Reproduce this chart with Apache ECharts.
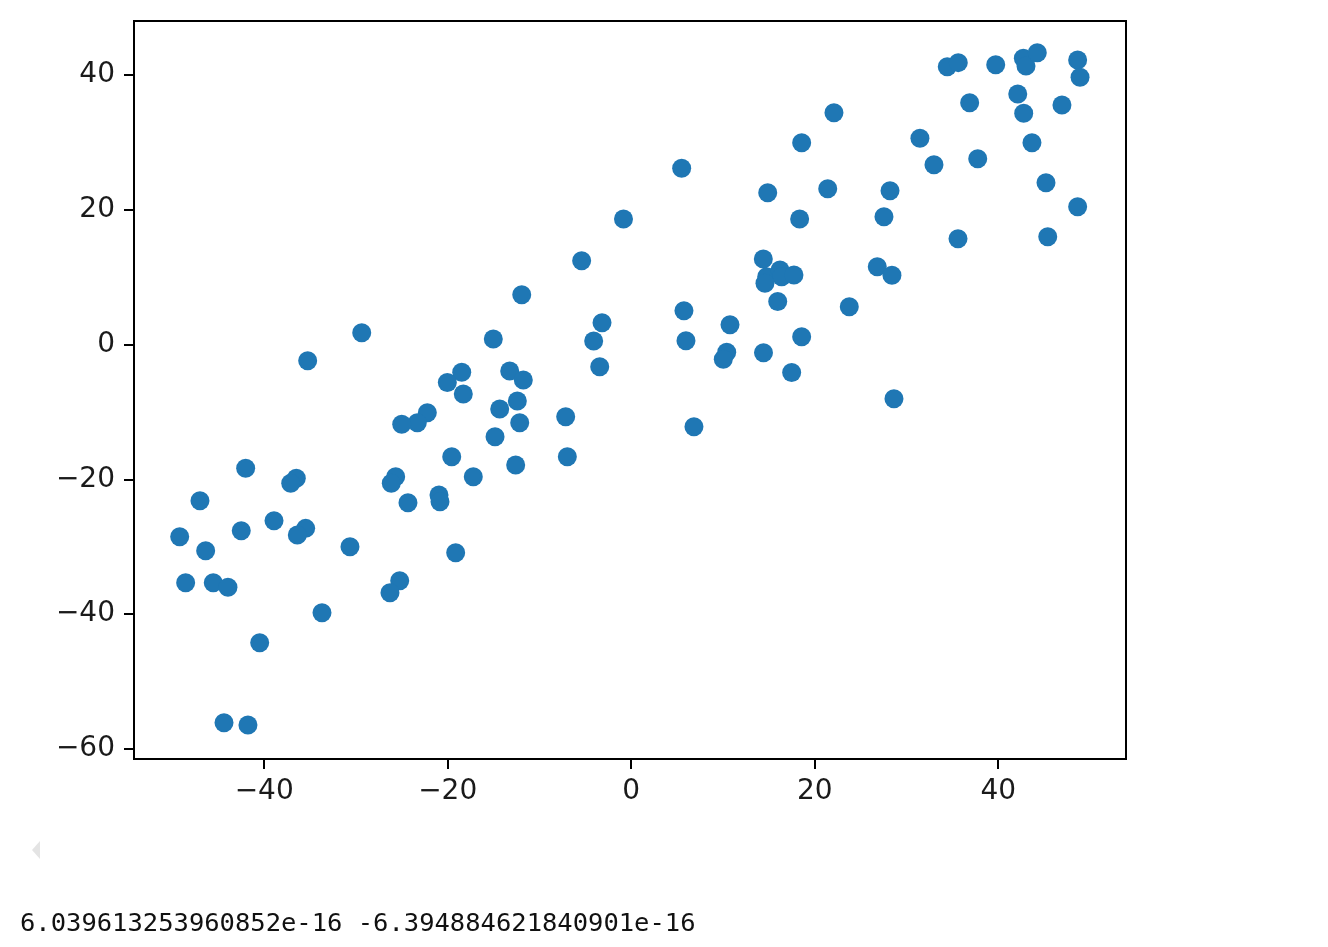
<!DOCTYPE html>
<html>
<head>
<meta charset="utf-8">
<script src="https://cdn.jsdelivr.net/npm/echarts@6/dist/echarts.min.js"></script>
<style>
html,body{margin:0;padding:0;background:#fff;}
#chart{width:1328px;height:947px;}
</style>
</head>
<body>
<div id="chart"></div>
<script>
const xValues = [
  5.50, 22.10, 18.58, 14.88, 21.42, 28.21, 18.36, 27.55, 31.47, 33.00,
  37.77, 36.89, 34.45, 35.65, 39.73, 42.74, 43.03, 44.26, 48.66, 48.92,
  42.13, 42.78, 46.95, 43.68, 45.21, 48.66, 35.62, 45.40, 14.40, 14.77,
  16.22, 16.40, 17.74, 14.58, 15.97, 26.82, 28.42, 23.77, 5.75, 5.97,
  10.77, 10.41, 10.04, 14.42, 18.58, 17.49, 28.64, 6.84, -0.84, -5.40,
  -11.93, -3.18, -4.09, -3.43, -15.03, -29.37, -35.26, -18.47, -20.04, -13.24,
  -11.76, -18.30, -14.33, -12.41, -12.15, -14.84, -7.14, -6.96, -22.22, -23.31,
  -25.01, -19.56, -17.21, -12.59, -20.95, -20.84, -24.33, -25.67, -26.15, -19.13,
  -25.23, -26.29, -42.02, -36.50, -37.11, -47.00, -38.93, -42.50, -35.48, -36.39,
  -49.21, -46.38, -30.65, -48.56, -45.55, -43.95, -33.70, -40.49, -44.38, -41.77
];
const yValues = [
  26.16, 34.41, 29.96, 22.54, 23.13, 22.83, 18.64, 18.98, 30.61, 26.69,
  27.58, 35.89, 41.23, 41.83, 41.53, 42.48, 41.34, 43.31, 42.23, 39.66,
  37.18, 34.32, 35.55, 29.96, 24.02, 20.46, 15.71, 16.01, 12.70, 10.07,
  11.07, 10.07, 10.33, 9.09, 6.39, 11.56, 10.28, 5.62, 5.03, 0.56,
  2.94, -1.14, -2.18, -1.20, 1.17, -4.14, -8.03, -12.18, 18.64, 12.45,
  7.40, 3.25, 0.53, -3.28, 0.83, 1.77, -2.39, -4.11, -5.62, -3.92,
  -5.25, -7.33, -9.55, -8.37, -11.59, -13.66, -10.70, -16.63, -10.10, -11.59,
  -11.82, -16.63, -19.60, -17.86, -22.31, -23.31, -23.46, -19.60, -20.58, -30.88,
  -35.03, -36.81, -18.35, -19.84, -20.58, -23.16, -26.13, -27.61, -27.26, -28.25,
  -28.50, -30.58, -29.99, -35.33, -35.33, -36.01, -39.78, -44.23, -56.10, -56.44
];
const xTicks = [-40, -20, 0, 20, 40];
const yTicks = [-60, -40, -20, 0, 20, 40];
const footerText = '6.039613253960852e-16 -6.394884621840901e-16';

const points = xValues.map((x, i) => [x, yValues[i]]);
const fmt = v => String(v).replace('-', '\u2212');

const chart = echarts.init(document.getElementById('chart'), null, {renderer: 'canvas'});
const axisCommon = {
  axisLine: {show: true, onZero: false, lineStyle: {color: '#000', width: 2}},
  splitLine: {show: false},
  axisTick: {show: true, length: 10, inside: false, lineStyle: {color: '#000', width: 2}},
  axisLabel: {
    fontFamily: 'DejaVu Sans', fontSize: 28, color: '#1a1a1a', margin: 19,
    formatter: fmt
  }
};
chart.setOption({
  animation: false,
  backgroundColor: '#fff',
  grid: {left: 134, top: 21, width: 992, height: 738, show: true,
         borderColor: '#000', borderWidth: 2, backgroundColor: 'transparent'},
  xAxis: Object.assign({}, axisCommon, {
    type: 'value', min: -54.19, max: 53.93,
    axisTick: Object.assign({}, axisCommon.axisTick, {customValues: xTicks}),
    axisLabel: Object.assign({}, axisCommon.axisLabel, {customValues: xTicks})
  }),
  yAxis: Object.assign({}, axisCommon, {
    type: 'value', min: -61.48, max: 48.01,
    axisTick: Object.assign({}, axisCommon.axisTick, {customValues: yTicks}),
    axisLabel: Object.assign({}, axisCommon.axisLabel, {customValues: yTicks})
  }),
  series: [{
    type: 'scatter',
    data: points,
    symbol: 'circle',
    symbolSize: 19,
    itemStyle: {color: '#1f77b4', opacity: 1},
    silent: true
  }],
  graphic: [
    {type: 'polygon', shape: {points: [[40, 841], [32, 850], [40, 859]]},
     style: {fill: '#e4e4e4'}},
    {type: 'text', left: 20, top: 911,
     style: {text: footerText, fontFamily: 'DejaVu Sans Mono', fontSize: 25.5, fill: '#111'}}
  ]
});
</script>
</body>
</html>
